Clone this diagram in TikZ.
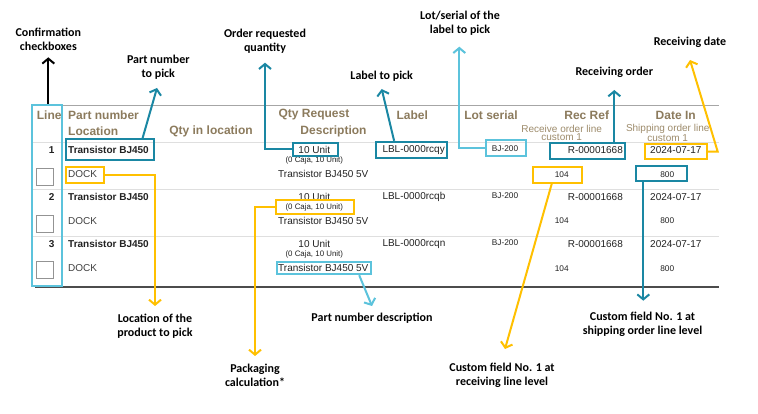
\documentclass[tikz,border=0pt]{standalone}
\usepackage{fontspec}
\setmainfont{Liberation Sans}
\newfontfamily\annfont{Carlito}
\usetikzlibrary{arrows.meta,calc}
\definecolor{tealc}{HTML}{1A87A3}
\definecolor{lblue}{HTML}{5CC3DC}
\definecolor{yel}{HTML}{FFC000}
\definecolor{hdr}{HTML}{8C7B5D}
\definecolor{subhdr}{HTML}{9E8C6C}
\definecolor{txt}{HTML}{222222}
\tikzset{
  ann/.style={font=\annfont\bfseries\fontsize{12}{14}\selectfont, align=center, inner sep=0pt, text=black},
  hd/.style={font=\bfseries\fontsize{12}{14}\selectfont, text=hdr, inner sep=0pt},
  subhd/.style={font=\fontsize{10}{7.4}\selectfont, text=subhdr, inner sep=0pt, align=center},
  boldcell/.style={font=\bfseries\fontsize{10}{12}\selectfont, text=txt, inner sep=0pt},
  plaincell/.style={font=\fontsize{10}{12}\selectfont, text=txt, inner sep=0pt},
  smallcell/.style={font=\fontsize{8.3}{10}\selectfont, text=txt, inner sep=0pt},
  hbox/.style={draw=#1, line width=1.8pt, inner sep=0pt, fill=none},
  chk/.style={draw=gray!85, line width=0.9pt, minimum width=17pt, minimum height=17pt, inner sep=0pt},
  conn/.style={draw=#1, line width=2pt, -{Straight Barb[length=5pt,width=12pt,line width=2pt]}},
}
\begin{document}
\begin{tikzpicture}[x=1pt,y=-1pt]
\useasboundingbox[fill=white] (0,0) rectangle (758,414);

% table lines
\draw[gray!70, line width=1.5pt] (33,105.6) -- (719,105.6);
\draw[gray!25, line width=1.3pt] (33,142.7) -- (719,142.7);
\draw[gray!25, line width=1.3pt] (33,189.3) -- (719,189.3);
\draw[gray!25, line width=1.3pt] (33,236.7) -- (719,236.7);
\draw[black!70, line width=2pt] (35,287.5) -- (719,287.5);

% headers
\node[hd, anchor=west] (hline) at (36.7,115) {Line};
\node[hd, anchor=west] (hpn) at (68,115) {Part number};
\node[hd, anchor=west] (hloc) at (68,131.7) {Location};
\node[hd] (hqil) at (211,131.7) {Qty in location};
\node[hd] (hqr) at (314,115) {Qty Request};
\node[hd] (hdesc) at (333.5,131.7) {Description};
\node[hd] (hlbl) at (412.3,115) {Label};
\node[hd] (hlot) at (491,115) {Lot serial};
\node[hd] (hrec) at (586.7,115) {Rec Ref};
\node[hd] (hdate) at (675.7,115) {Date In};
\node[subhd] (hrecsub) at (561.7,133) {Receive order line\\custom 1};
\node[subhd] (hdatesub) at (667.7,133) {Shipping order line\\custom 1};

% rows
\foreach \n/\ya/\yb/\yc/\lbl in {1/150/174.3/160.3/LBL-0000rcqy, 2/196.7/221/207.3/LBL-0000rcqb, 3/243.7/268.3/254.3/LBL-0000rcqn}{
  \node[boldcell] (num\n) at (51.7,\ya) {\n};
  \node[boldcell, anchor=west] (part\n) at (68,\ya) {Transistor BJ450};
  \node[plaincell, anchor=west, text=black!75] (dock\n) at (68,\yb) {DOCK};
  \node[plaincell] (qty\n) at (314.3,\ya) {10 Unit};
  \node[smallcell, font=\fontsize{7.9}{9}\selectfont] (pkg\n) at (314.3,\yc) {(0 Caja, 10 Unit)};
  \node[plaincell] (desc\n) at (323.3,\yb) {Transistor BJ450 5V};
  \node[plaincell, anchor=west] (lab\n) at (382.3,\ya) {\lbl};
  \node[smallcell] (lot\n) at (505,\ya-1.2) {BJ-200};
  \node[plaincell] (rec\n) at (595.3,\ya) {R-00001668};
  \node[smallcell] (cf\n) at (561.7,\yb) {104};
  \node[plaincell] (date\n) at (675.8,\ya) {2024-07-17};
  \node[smallcell] (cs\n) at (667.3,\yb) {800};
}
\node[chk] (chk1) at (45.3,176.7) {};
\node[chk] (chk2) at (45.3,223.7) {};
\node[chk] (chk3) at (45.3,270.3) {};

% highlight boxes
\node[hbox=lblue, minimum width=30pt, minimum height=181.3pt] (blinebox) at (47,195.35) {};
\node[hbox=tealc, minimum width=88.6pt, minimum height=21pt] (bpn) at (110,149.5) {};
\node[hbox=yel, minimum width=38.6pt, minimum height=16pt] (bdock) at (85,174.7) {};
\node[hbox=tealc, minimum width=44.4pt, minimum height=12.4pt] (bqty) at (315.5,149.5) {};
\node[hbox=yel, minimum width=78.3pt, minimum height=14pt] (bpkg) at (315.15,207) {};
\node[hbox=lblue, minimum width=94pt, minimum height=12pt] (bdesc) at (323.7,268.3) {};
\node[hbox=tealc, minimum width=71.6pt, minimum height=16.6pt] (blbl) at (411.5,150) {};
\node[hbox=lblue, minimum width=40pt, minimum height=16pt] (bbj) at (505.7,148) {};
\node[hbox=tealc, minimum width=75pt, minimum height=16pt] (brec) at (587.5,151.3) {};
\node[hbox=yel, minimum width=61.7pt, minimum height=15.3pt] (bdate) at (675.85,151.65) {};
\node[hbox=yel, minimum width=48.4pt, minimum height=16pt] (b104) at (557.5,174.7) {};
\node[hbox=tealc, minimum width=51.6pt, minimum height=15pt] (b800) at (661.5,173.2) {};

% annotations
\node[ann] (aconf) at (48.3,39) {Confirmation\\checkboxes};
\node[ann] (apn) at (158.3,67) {Part number\\to pick};
\node[ann] (aqty) at (265,41.2) {Order requested\\quantity};
\node[ann] (albl) at (381.7,76) {Label to pick};
\node[ann] (alot) at (460,23) {Lot/serial of the\\label to pick};
\node[ann] (arec) at (614.3,72.7) {Receiving order};
\node[ann] (adate) at (690,42.3) {Receiving date};
\node[ann] (aloc) at (155,326) {Location of the\\product to pick};
\node[ann] (apkg) at (255,375) {Packaging\\calculation*};
\node[ann] (adesc) at (372,318.3) {Part number description};
\node[ann] (acfr) at (502,375) {Custom field No. 1 at\\receiving line level};
\node[ann] (acfs) at (642.5,324.5) {Custom field No. 1 at\\shipping order line level};

% arrow tips
\coordinate (tconf) at (48.3,57.3);
\coordinate (tpn) at (157,88);
\coordinate (tqty) at (265,62.7);
\coordinate (tlbl) at (381.7,89);
\coordinate (tlot) at (459.3,46.7);
\coordinate (trec) at (614.3,90);
\coordinate (tdate) at (690,60);
\coordinate (kdate) at (717.7,151.65);
\coordinate (tloc) at (155,306);
\coordinate (tpkg) at (255,356);
\coordinate (tdesc) at (372,306);
\coordinate (tcfr) at (505,349);
\coordinate (tcfs) at (643.3,300.7);

% connectors
\draw[conn=black] (blinebox.north -| tconf) -- (tconf);
\draw[conn=tealc] ($(bpn.north east)+(-12.6,0)$) -- (tpn);
\draw[conn=tealc] (bqty.west) -| (tqty);
\draw[conn=tealc] ($(blbl.north west)+(19.3,0)$) -- (tlbl);
\draw[conn=lblue] (bbj.west) -| (tlot);
\draw[conn=tealc] (brec.north -| trec) -- (trec);
\draw[conn=yel] (bdate.east) -- (kdate) -- (tdate);
\draw[conn=yel] (bdock.east) -| (tloc);
\draw[conn=yel] (bpkg.west) -| (tpkg);
\draw[conn=lblue] ($(bdesc.south east)+(-12.4,0)$) -- (tdesc);
\draw[conn=yel] ($(b104.south west)+(19.4,0)$) -- (tcfr);
\draw[conn=tealc] (b800.south -| tcfs) -- (tcfs);
\end{tikzpicture}
\end{document}
